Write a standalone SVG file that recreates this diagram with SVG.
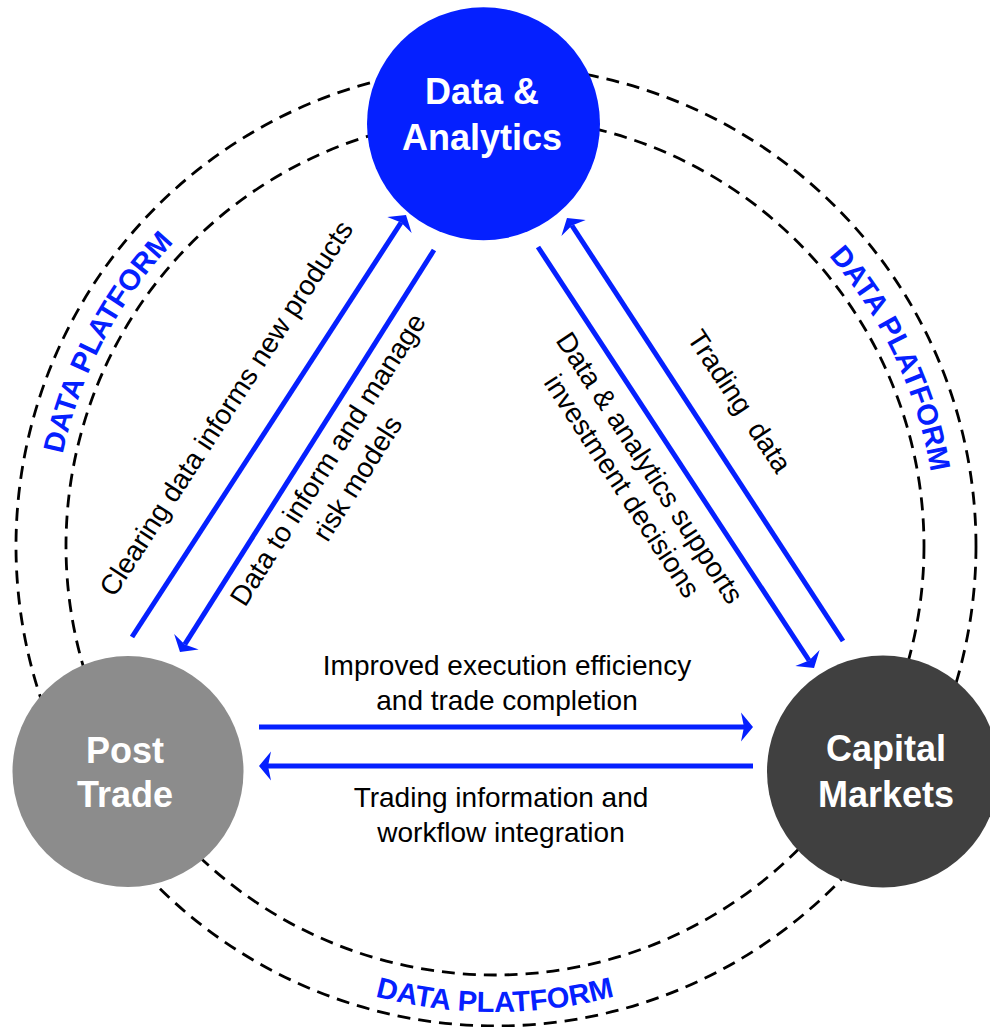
<svg xmlns="http://www.w3.org/2000/svg" width="990" height="1027" viewBox="0 0 990 1027">
<style>
.ring{fill:none;stroke:#000;stroke-width:2.8;stroke-dasharray:13 8}
.plat{font-family:"Liberation Sans",Arial,sans-serif;font-weight:bold;font-size:29px;fill:#0520ff}
.conn{stroke:#0520ff;stroke-width:5;fill:none;marker-end:url(#ah)}
.lbl{font-family:"Liberation Sans",Arial,sans-serif;font-size:28px;fill:#000;text-anchor:middle}
.node{font-family:"Liberation Sans",Arial,sans-serif;font-weight:bold;font-size:36px;fill:#fff;text-anchor:middle}
</style>
<defs>
<marker id="ah" markerUnits="userSpaceOnUse" viewBox="0 0 30 30" markerWidth="30" markerHeight="30" refX="12" refY="15" orient="auto">
<path d="M21,15 L9,0.5 L12,15 L9,29.5 Z" fill="#0520ff"/>
</marker>
<path id="arcL" d="M63.2,640.1 A442,442 0 0 1 327.3,137.1"/>
<path id="arcR" d="M679.7,144.4 A442,442 0 0 1 922.5,658.2"/>
<path id="arcB" d="M195.5,903 A466,466 0 0 0 794.5,903"/>
</defs>
<rect width="990" height="1027" fill="#fff"/>
<g id="platform">
<circle class="ring" cx="496" cy="546" r="480"/>
<circle class="ring" cx="495" cy="546" r="429"/>
<text class="plat"><textPath href="#arcL" startOffset="50%" text-anchor="middle">DATA PLATFORM</textPath></text>
<text class="plat"><textPath href="#arcR" startOffset="50%" text-anchor="middle">DATA PLATFORM</textPath></text>
<text class="plat"><textPath href="#arcB" startOffset="50%" text-anchor="middle">DATA PLATFORM</textPath></text>
</g>
<g id="connectors">
<path class="conn" d="M132,637 L401.1,222.5"/>
<path class="conn" d="M434,250 L184.8,644.4"/>
<path class="conn" d="M538,247 L809.1,660.5"/>
<path class="conn" d="M843,641 L571.9,225.5"/>
<path class="conn" d="M259,727 L744,727"/>
<path class="conn" d="M753,766 L268,766"/>
<text class="lbl" transform="translate(264.4,433.1) rotate(-57)" x="0" y="-36">Clearing data informs new products</text>
<text class="lbl" transform="translate(308.8,447.5) rotate(-57.6)"><tspan x="0" y="32">Data to inform and manage</tspan><tspan x="0" y="67">risk models</tspan></text>
<text class="lbl" transform="translate(672.8,452.9) rotate(56.8)"><tspan x="0" y="37">Data &amp; analytics supports</tspan><tspan x="0" y="70">investment decisions</tspan></text>
<text class="lbl" transform="translate(701.5,426.4) rotate(56.6)" x="0" y="-36" word-spacing="8">Trading data</text>
<text class="lbl"><tspan x="507" y="675">Improved execution efficiency</tspan><tspan x="507" y="710">and trade completion</tspan></text>
<text class="lbl"><tspan x="501" y="807">Trading information and</tspan><tspan x="501" y="842">workflow integration</tspan></text>
</g>
<g id="node-data-analytics">
<circle cx="483.5" cy="123.7" r="116.5" fill="#0520ff"/>
<text class="node"><tspan x="482" y="104">Data &amp;</tspan><tspan x="482" y="149.5">Analytics</tspan></text>
</g>
<g id="node-post-trade">
<circle cx="128" cy="771.5" r="115.5" fill="#8c8c8c"/>
<text class="node"><tspan x="125" y="763">Post</tspan><tspan x="125" y="807">Trade</tspan></text>
</g>
<g id="node-capital-markets">
<circle cx="883" cy="771.5" r="116" fill="#404040"/>
<text class="node"><tspan x="886" y="761">Capital</tspan><tspan x="886" y="807">Markets</tspan></text>
</g>
</svg>
